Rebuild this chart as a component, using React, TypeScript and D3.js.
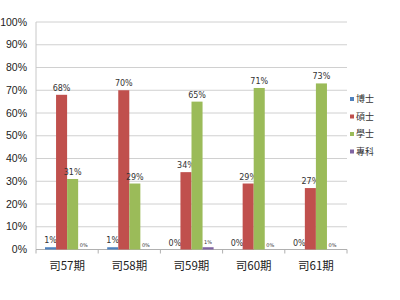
import React from "react";
import * as d3 from "d3";

const categories = ["司57期", "司58期", "司59期", "司60期", "司61期"];
const seriesNames = ["博士", "碩士", "學士", "專科"];
const phd = [1, 1, 0, 0, 0];
const master = [68, 70, 34, 29, 27];
const bachelor = [31, 29, 65, 71, 73];
const college = [0, 0, 1, 0, 0];
const yTicks = [0, 10, 20, 30, 40, 50, 60, 70, 80, 90, 100];
const colors = ["#4F81BD", "#C0504D", "#9BBB59", "#8064A2"];

const values = [phd, master, bachelor, college];
const FONT = "'DejaVu Sans', 'Noto Sans CJK TC', sans-serif";
const AXFONT = "'Liberation Sans', 'DejaVu Sans', sans-serif";
const CJK = "'Noto Sans CJK TC', 'DejaVu Sans', sans-serif";

export default function App() {
  const W = 400, H = 300;
  const x = d3.scaleBand<string>().domain(categories).range([36, 347]);
  const bw = x.bandwidth();
  const xs = d3.scaleBand<string>().domain(seriesNames).range([9, bw - 9]);
  const y = d3.scaleLinear().domain([0, 100]).range([249.5, 22]);

  return (
    <svg width={W} height={H} style={{ position: "absolute", left: 0, top: 0, background: "#fff" }}>
      {yTicks.map((t) => (
        <g key={t}>
          {t > 0 && (
            <line x1={36} x2={347} y1={y(t)} y2={y(t)} stroke="#d0d0d0" strokeWidth={1} />
          )}
          <text x={27} y={y(t)} dy="0.35em" textAnchor="end" fontSize={10.5} fontFamily={AXFONT} fill="#222">
            {t}%
          </text>
        </g>
      ))}
      <line x1={36} x2={36} y1={22} y2={y(0)} stroke="#c8c8c8" />
      <line x1={36} x2={347} y1={y(0)} y2={y(0)} stroke="#b0b0b0" />
      {categories.map((c, i) => (
        <line key={"t" + i} x1={x(c)!} x2={x(c)!} y1={y(0)} y2={y(0) + 4} stroke="#b0b0b0" />
      ))}
      <line x1={347} x2={347} y1={y(0)} y2={y(0) + 4} stroke="#b0b0b0" />
      {values.map((arr, si) =>
        arr.map((v, ci) => {
          const bx = x(categories[ci])! + xs(seriesNames[si])!;
          const w = xs.bandwidth();
          return (
            <g key={si + "-" + ci}>
              {v > 0 && (
                <rect x={bx} y={y(v)} width={w} height={y(0) - y(v)} fill={colors[si]} />
              )}
              <text
                x={bx + w / 2}
                y={y(v) - (si === 3 ? 3 : 4)}
                textAnchor="middle"
                fontSize={si === 3 ? 5 : 8}
                fontFamily={FONT}
                fill="#333"
              >
                {v}%
              </text>
            </g>
          );
        })
      )}
      {categories.map((c) => (
        <text key={c} x={x(c)! + bw / 2} y={266} dy="0.35em" textAnchor="middle" fontSize={11.5} fontFamily={CJK} fill="#222">
          {c}
        </text>
      ))}
      {seriesNames.map((s, i) => (
        <g key={s} transform={`translate(350, ${99 + i * 17.5})`}>
          <rect x={0} y={-2} width={4} height={4} fill={colors[i]} />
          <text x={6} y={0} dy="0.35em" fontSize={9} fontFamily={CJK} fill="#333">
            {s}
          </text>
        </g>
      ))}
    </svg>
  );
}
